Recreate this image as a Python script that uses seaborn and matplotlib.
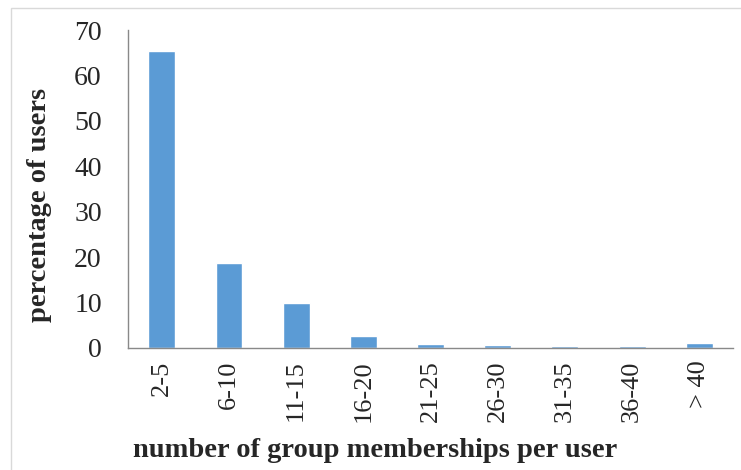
import numpy as np
import pandas as pd
import matplotlib
matplotlib.use('Agg')
import matplotlib.pyplot as plt
from matplotlib.patches import Rectangle
import seaborn as sns

#data
groups = ['2-5', '6-10', '11-15', '16-20', '21-25', '26-30', '31-35', '36-40', '> 40']
pct_users = [65.3, 18.6, 9.9, 2.6, 0.9, 0.7, 0.4, 0.3, 1.1]
yticks = [0, 10, 20, 30, 40, 50, 60, 70]

df = pd.DataFrame({'group': groups, 'pct': pct_users})

sns.set_style('white')
plt.rcParams['font.family'] = ['Liberation Serif', 'DejaVu Serif']

fig = plt.figure(figsize=(7.41, 4.70), dpi=100)
ax = fig.add_axes([0.173, 0.26, 0.816, 0.676])

sns.barplot(data=df, x='group', y='pct', color='#5b9bd5', width=0.4, ax=ax, saturation=1)

ax.set_ylim(0, 70)
ax.set_xlim(-0.5, len(groups) - 0.5)
ax.set_yticks(yticks)
ax.set_yticklabels([str(v) for v in yticks], fontsize=20)
ax.set_xticks(range(len(groups)))
ax.set_xticklabels(groups, rotation=90, fontsize=19)
ax.set_xticks(np.arange(-0.5, len(groups)), minor=True)
ax.tick_params(axis='x', which='major', length=0, pad=9)
ax.tick_params(axis='x', which='minor', length=7, width=1, color='#898989', direction='out')
ax.tick_params(axis='y', length=6, width=1, color='#898989', direction='out', pad=13)

for s in ['top', 'right']:
    ax.spines[s].set_visible(False)
for s in ['left', 'bottom']:
    ax.spines[s].set_color('#898989')
    ax.spines[s].set_linewidth(1)

ax.set_xlabel('number of group memberships per user', fontsize=20.5, fontweight='bold')
ax.set_ylabel('percentage of users', fontsize=20.5, fontweight='bold')
# labels are off-centre in the original
ax.xaxis.set_label_coords(0.408, -0.283)
ax.yaxis.set_label_coords(-0.126, 0.45)

# outer frame
fig.patches.append(Rectangle((11 / 741, -0.02), 1.0, 1.0 - 8 / 470 + 0.02, transform=fig.transFigure,
                             fill=False, edgecolor='#d9d9d9', linewidth=1))

fig.savefig('out.png', dpi=100)
